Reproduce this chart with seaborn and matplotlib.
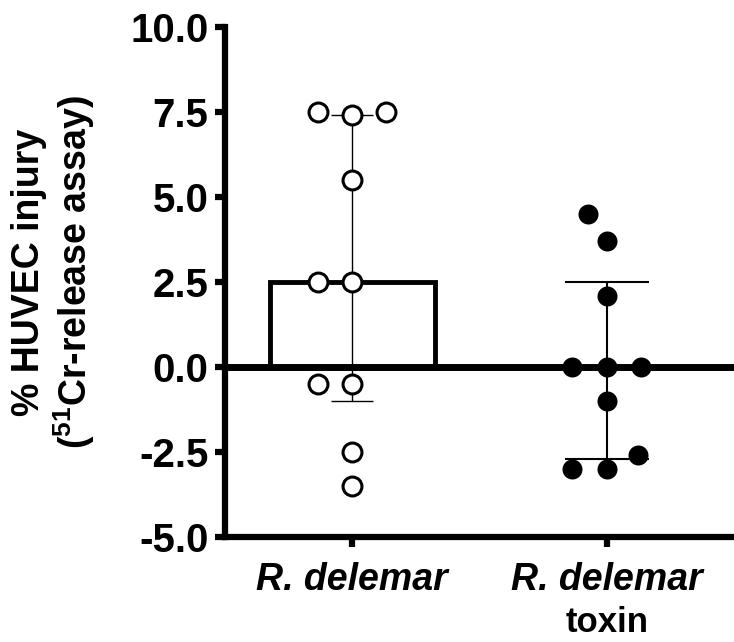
import numpy as np
import pandas as pd
import matplotlib
matplotlib.use("Agg")
import matplotlib.pyplot as plt
import seaborn as sns

# ---- data ----
categories = ["R. delemar", "R. delemar toxin"]
tick_line1 = ["R. delemar", "R. delemar"]
tick_line2 = ["", "toxin"]
rdelemar_values = [7.5, 7.5, 7.4, 5.5, 2.5, 2.5, -0.5, -0.5, -2.5, -3.5]
toxin_values = [4.5, 3.7, 2.1, 0.0, 0.0, 0.0, -1.0, -2.6, -3.0, -3.0]
y_ticks = [-5.0, -2.5, 0.0, 2.5, 5.0, 7.5, 10.0]

df = pd.DataFrame({
    "group": [categories[0]] * len(rdelemar_values) + [categories[1]] * len(toxin_values),
    "value": rdelemar_values + toxin_values,
})

sns.set_style("ticks")
plt.rcParams["font.family"] = ["Liberation Sans", "DejaVu Sans"]
plt.rcParams["font.weight"] = "bold"
plt.rcParams["text.color"] = "black"
plt.rcParams["axes.edgecolor"] = "black"
plt.rcParams["xtick.color"] = "black"
plt.rcParams["ytick.color"] = "black"
plt.rcParams["mathtext.fontset"] = "custom"
plt.rcParams["mathtext.rm"] = "Liberation Sans:bold"
plt.rcParams["mathtext.bf"] = "Liberation Sans:bold"
plt.rcParams["mathtext.it"] = "Liberation Sans:bold:italic"

fig = plt.figure(figsize=(7.34, 6.42), dpi=100)
ax = fig.add_axes([0.3065, 0.1636, 0.6935, 0.7944])

# median bars
sns.barplot(data=df, x="group", y="value", order=categories, estimator="median",
            errorbar=None, width=0.65, color="white", saturation=1,
            edgecolor="black", linewidth=3.5, ax=ax, zorder=2)

# median with interquartile range error bars
def q1(x):
    return np.percentile(x, 25, method="weibull")

def q3(x):
    return np.percentile(x, 75, method="weibull")

stats = df.groupby("group")["value"].agg(["median", q1, q3]).reindex(categories)
capsizes = [15, 30]
err_lw = [1.0, 1.5]
for i, cat in enumerate(categories):
    m, lo, hi = stats.loc[cat, "median"], stats.loc[cat, "q1"], stats.loc[cat, "q3"]
    ax.errorbar(i, m, yerr=[[m - lo], [hi - m]], fmt="none", ecolor="black",
                elinewidth=err_lw[i], capsize=capsizes[i], capthick=err_lw[i], zorder=3)

ax.axhline(0, color="black", lw=5, zorder=4)

# individual points (swarm laid out with a wider spacing, then drawn at the visible size)
n0 = len(ax.collections)
sns.swarmplot(data=df[df.group == categories[0]], x="group", y="value", order=categories,
              color="white", edgecolor="black", linewidth=2.2, size=13.6, ax=ax, zorder=5)
sns.swarmplot(data=df[df.group == categories[1]], x="group", y="value", order=categories,
              color="black", edgecolor="black", linewidth=0, size=14.4, ax=ax, zorder=5)
swarm_colls = [c for c in ax.collections[n0:] if len(c.get_offsets())]
spacing_pt = 23.5
visible = []
for c in swarm_colls:
    lw = c.get_linewidth().item()
    visible.append(c.get_sizes().copy())
    c.set_sizes([(spacing_pt - lw) ** 2])

ax.set_xlim(-0.5, 1.5)
ax.set_ylim(-5, 10)
ax.set_yticks(y_ticks)
ax.set_yticklabels([f"{v:.1f}" for v in y_ticks])
ax.set_xticks(range(len(categories)))
ax.set_xticklabels(tick_line1, fontstyle="italic", fontweight="bold")
for i, t in enumerate(tick_line2):
    if t:
        ax.text(i, -0.186, t, transform=ax.get_xaxis_transform(), ha="center", va="baseline",
                fontsize=25, fontweight="bold")
ax.set_xlabel("")
ax.set_ylabel("")

for s in ["top", "right"]:
    ax.spines[s].set_visible(False)
for s in ["left", "bottom"]:
    ax.spines[s].set_linewidth(4.5)
    ax.spines[s].set_capstyle("projecting")
ax.tick_params(axis="both", width=4.5, length=7, labelsize=29, pad=5, color="black")
ax.tick_params(axis="x", labelsize=27, pad=11)
for lab in ax.get_yticklabels():
    lab.set_fontweight("bold")

fig.text(54 / 734, 1 - 272 / 642, "% HUVEC injury\n(${}^{51}$Cr-release assay)",
         rotation=90, ha="center", va="center", multialignment="center",
         fontsize=27, fontweight="bold", linespacing=1.1)

# lay out the swarms, then freeze positions and restore visible marker size
fig.canvas.draw()
for c, s in zip(swarm_colls, visible):
    if "draw" in c.__dict__:
        del c.draw
    c.set_sizes(s)

fig.savefig("out.png", dpi=100)
